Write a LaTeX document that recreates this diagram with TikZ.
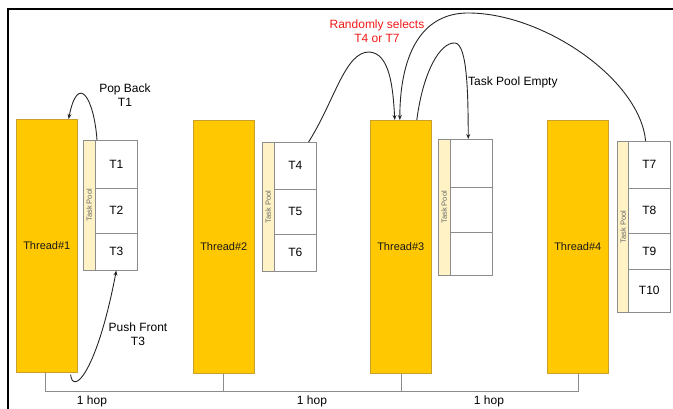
\documentclass[tikz,border=0pt]{standalone}
\usepackage{fontspec}
\setmainfont{Liberation Sans}
\usetikzlibrary{arrows.meta}
\definecolor{gold}{HTML}{FFC800}
\definecolor{goldline}{HTML}{C9A12A}
\definecolor{strip}{HTML}{FFF2C4}
\definecolor{cellline}{HTML}{8C8C8C}
\definecolor{redtxt}{HTML}{F01818}
\tikzset{
  thread/.style={draw=goldline, fill=gold, line width=0.6pt, anchor=north west,
    minimum width=61pt, minimum height=253pt, inner sep=0pt,
    font=\fontsize{11}{12}\selectfont, text=black!90},
  poolstrip/.style={draw=cellline, fill=strip, line width=0.6pt, anchor=north west,
    inner sep=0pt, minimum width=12pt},
  poollbl/.style={rotate=90, font=\fontsize{7.5}{8}\selectfont, text=black!60},
  cell/.style={draw=cellline, fill=white, line width=0.6pt, anchor=north west,
    inner sep=0pt, minimum width=42pt, font=\fontsize{12}{13}\selectfont},
  lbl/.style={font=\fontsize{12}{14}\selectfont, align=center, inner sep=0pt},
  arc/.style={line width=0.9pt, black!85, -{Stealth[length=5pt,width=4pt]}},
  hop/.style={line width=0.6pt, draw=cellline}
}
\begin{document}
\begin{tikzpicture}[x=1pt, y=-1pt]
\useasboundingbox (0,0) rectangle (673,409);
% frame
\draw[line width=1.2pt] (8,409) -- (8,9) -- (673,9);
% threads
\node[thread] (th1) at (16,119) {Thread\#1};
\node[thread] (th2) at (193,120) {Thread\#2};
\node[thread] (th3) at (370,120) {Thread\#3};
\node[thread] (th4) at (547,120) {Thread\#4};
% pool 1
\node[poolstrip, minimum height=130pt] (s1) at (83,140) {};
\node[poollbl] at (s1.center) {Task Pool};
\node[cell, minimum height=48pt] (c1) at (95,140) {T1};
\node[cell, minimum height=45pt] (c2) at (95,188) {T2};
\node[cell, minimum height=37pt] (c3) at (95,233) {T3};
% pool 2
\node[poolstrip, minimum height=129pt] (s2) at (262,142) {};
\node[poollbl] at (s2.center) {Task Pool};
\node[cell, minimum height=47pt] (c4) at (274,142) {T4};
\node[cell, minimum height=45pt] (c5) at (274,189) {T5};
\node[cell, minimum height=37pt] (c6) at (274,234) {T6};
% pool 3
\node[poolstrip, minimum height=136pt] (s3) at (438,139) {};
\node[poollbl] at (s3.center) {Task Pool};
\node[cell, minimum height=48pt] (e1) at (450,139) {};
\node[cell, minimum height=45pt] (e2) at (450,187) {};
\node[cell, minimum height=43pt] (e3) at (450,232) {};
% pool 4
\node[poolstrip, minimum height=171pt] (s4) at (617,141) {};
\node[poollbl] at (s4.center) {Task Pool};
\node[cell, minimum height=47pt] (c7) at (628,141) {T7};
\node[cell, minimum height=45pt] (c8) at (628,188) {T8};
\node[cell, minimum height=36pt] (c9) at (628,233) {T9};
\node[cell, minimum height=43pt] (c10) at (628,269) {T10};
% hop lines
\coordinate (b1) at (45,391);
\coordinate (b2) at (223,391);
\coordinate (b3) at (401,391);
\coordinate (b4) at (578,391);
\draw[hop] (th1.south -| b1) -- (b1) -- (b4) -- (th4.south -| b4);
\draw[hop] (th2.south -| b2) -- (b2);
\draw[hop] (th3.south -| b3) -- (b3);
\node[lbl] (h1) at (92,401) {1 hop};
\node[lbl] (h2) at (312,401) {1 hop};
\node[lbl] (h3) at (489,401) {1 hop};
% labels
\node[lbl] (pop) at (125,95) {Pop Back\\T1};
\node[lbl] (push) at (138,334) {Push Front\\T3};
\node[lbl, text=redtxt] (rand) at (377,31) {Randomly selects\\T4 or T7};
\node[lbl, anchor=west] (empty) at (468,82) {Task Pool Empty};
% arcs
\coordinate (popS) at ([xshift=2pt]c1.north west);
\coordinate (popE) at ([xshift=-9pt]th1.north east);
\draw[arc] (popS) .. controls (94,98) and (78,72) .. (popE);
\coordinate (pushS) at ([xshift=-7pt,yshift=-2pt]th1.south east);
\draw[arc] (pushS) .. controls (73,396) and (97,372) .. (c3.south);
\coordinate (t4S) at ([xshift=-8pt]c4.north east);
\coordinate (a3a) at ([xshift=-6pt]th3.north);
\coordinate (a3b) at ([xshift=-1pt]th3.north);
\coordinate (a3c) at ([xshift=16pt]th3.north);
\draw[arc] (t4S) .. controls (335,100) and (345,52) .. (369,52) .. controls (390,53) and (393,88) .. (a3a);
\coordinate (t7S) at ([xshift=-25pt]c7.north east);
\draw[arc] (t7S) .. controls (640,80) and (545,14) .. (470,13) .. controls (418,12) and (400,60) .. (a3b);
\coordinate (e1E) at ([xshift=-3pt]e1.north);
\draw[arc] (a3c) .. controls (423,72) and (440,42) .. (455,43) .. controls (468,44) and (468,100) .. (e1E);
\end{tikzpicture}
\end{document}
